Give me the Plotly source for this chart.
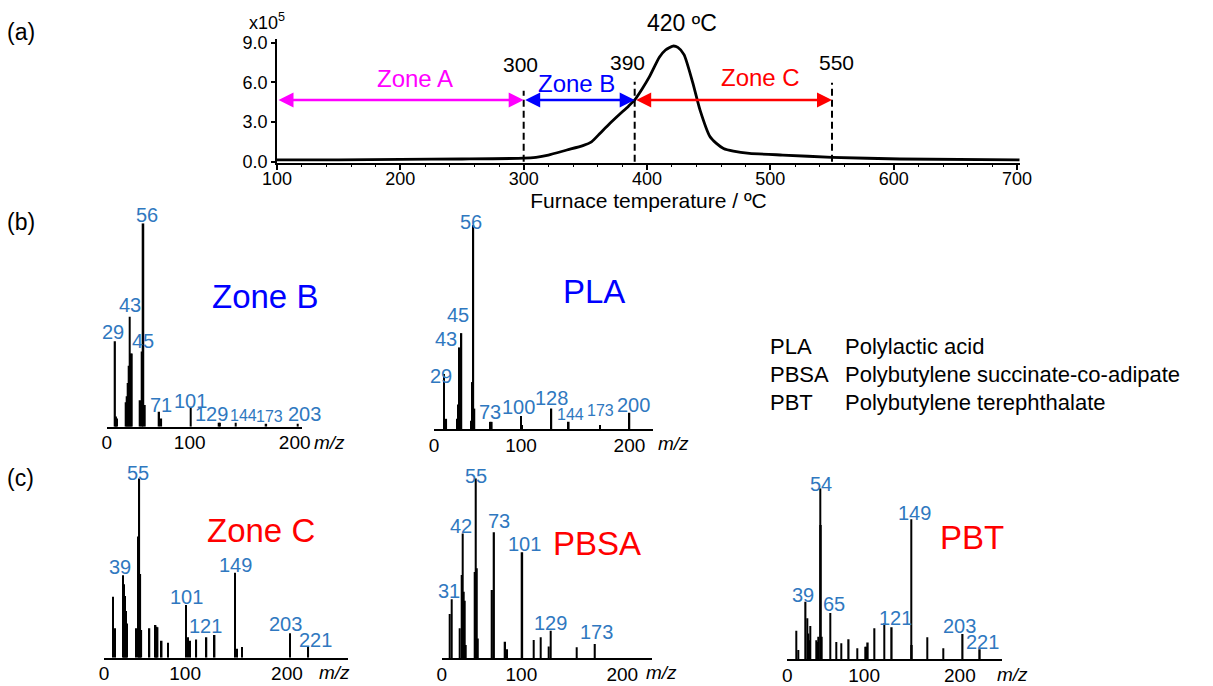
import plotly.graph_objects as go

W, H = 1213, 686
FONT = "Liberation Sans"
BLUE = "#2F78C0"

# ---------------- (a) thermogram data ----------------
temp_c = [100, 150, 200, 250, 300, 310, 320, 335, 348, 355, 362, 370, 378, 385, 390,
          396, 402, 410, 415, 421, 425, 430, 437, 443, 451, 456, 462, 470, 483, 510,
          550, 605, 702]
intensity_e5 = [0.13, 0.14, 0.17, 0.2, 0.26, 0.33, 0.5, 0.88, 1.21, 1.5, 2.15, 2.9, 3.6, 4.2, 4.67,
                5.5, 6.43, 7.9, 8.45, 8.75, 8.65, 8.1, 6.0, 3.9, 1.9, 1.4, 1.0, 0.8, 0.63, 0.5,
                0.33, 0.2, 0.13]
zone_bounds = [100, 300, 390, 550]
zone_names = ["Zone A", "Zone B", "Zone C"]
zone_colors = ["#FF00FF", "#0000FF", "#FF0000"]
arrow_level = 4.66
dash_tops = [5.37, 6.05, 5.98]
peak_temp = 420
x_ticks_a = [100, 200, 300, 400, 500, 600, 700]
y_ticks_a = [0, 3, 6, 9]
y_ticktext_a = ["0.0", "3.0", "6.0", "9.0"]

# ---------------- spectra data (relative intensity, %) ----------------
mz_zoneB = [29, 30, 31, 39, 40, 41, 42, 43, 44, 45, 53, 55, 56, 57, 71, 73, 101, 128, 129, 144, 173, 203]
int_zoneB = [42, 5, 4, 12, 15, 21.5, 30, 54, 36, 36, 13, 37, 100, 10.7, 7.4, 4, 9.5, 2, 2, 2, 1.5, 1.5]

mz_PLA = [29, 31, 41, 42, 43, 44, 45, 54, 55, 56, 57, 72, 73, 100, 101, 128, 144, 173, 200]
int_PLA = [27, 5, 5, 12, 40, 30, 47, 4, 23, 100, 10, 3.5, 3.5, 6.4, 2, 10, 3.5, 2, 8]

mz_zoneC = [29, 31, 39, 40, 41, 42, 43, 52, 54, 55, 56, 57, 65, 71, 72, 73, 77, 83, 101, 103, 105,
            111, 121, 129, 149, 151, 156, 203, 221]
int_zoneC = [34, 16.4, 46, 41, 34.4, 26, 19, 16.4, 67.5, 100, 46.7, 15.4, 16.4, 18.2, 17.3, 17, 9.5,
             8.4, 29.4, 11.4, 9.5, 10.2, 11.4, 12.7, 47.4, 5, 6, 13.6, 6.1]

mz_PBSA = [29, 31, 39, 41, 42, 43, 44, 45, 54, 55, 56, 57, 71, 73, 84, 86, 101, 112, 119, 127, 129, 155, 173]
int_PBSA = [24.6, 32.8, 16.7, 46.3, 69.4, 37, 32, 7.4, 48, 100, 50, 11, 38, 70, 9.2, 5, 58.9, 10.2,
            11.7, 6.5, 15.3, 6.1, 8]

mz_PBT = [29, 31, 39, 41, 42, 43, 44, 50, 51, 52, 54, 55, 56, 65, 71, 76, 84, 93, 101, 103, 104, 111,
          121, 129, 149, 150, 166, 183, 203, 221]
int_PBT = [16.6, 5.3, 33.6, 23.8, 15, 11, 19.3, 11, 10, 13, 100, 78.5, 13, 27, 10, 9.2, 11.5, 6.3,
           7.2, 7.2, 9.6, 18, 20.9, 18.6, 81.8, 8.2, 12.7, 6.3, 14.6, 5.7]

spectrum_ticks = [100, 200]
spectrum_ticktext = ["0", "100", "200"]

legend_abbr = ["PLA", "PBSA", "PBT"]
legend_names = ["Polylactic acid", "Polybutylene succinate-co-adipate", "Polybutylene terephthalate"]


def px_x(p):
    return p / W


def px_y(p):
    return 1 - p / H


fig = go.Figure()

# ---------------- panel (a) ----------------
fig.add_trace(go.Scatter(x=temp_c, y=intensity_e5, mode="lines", xaxis="x", yaxis="y",
                         line=dict(color="black", width=2.8, shape="spline", smoothing=0.6),
                         showlegend=False, hoverinfo="skip"))

axis_common = dict(showgrid=False, zeroline=False, showline=True, linecolor="black",
                   linewidth=1.5, automargin=False)

layout = dict(
    width=W, height=H, margin=dict(l=0, r=0, t=0, b=0, autoexpand=False),
    paper_bgcolor="white", plot_bgcolor="white",
    font=dict(family=FONT, color="black"),
    showlegend=False,
    xaxis=dict(domain=[px_x(277), px_x(1020)], range=[100, 702.4], anchor="y",
               tickvals=x_ticks_a, ticks="outside", ticklen=6, tickwidth=1.5, tickcolor="black",
               tickfont=dict(size=18, family=FONT), ticklabelstandoff=-7,
               minor=dict(dtick=20, ticks="outside", ticklen=3, tickwidth=1.2, tickcolor="black",
                          showgrid=False),
               title=dict(text="Furnace temperature / ºC", font=dict(size=21, family=FONT),
                          standoff=2),
               **axis_common),
    yaxis=dict(domain=[px_y(162.7), px_y(39.3)], range=[-0.08, 9.26], anchor="x",
               tickvals=y_ticks_a, ticktext=y_ticktext_a, ticks="outside", ticklen=4,
               tickwidth=1.5, tickcolor="black", tickfont=dict(size=18, family=FONT),
               **axis_common),
)


def paper_text(xp, yp, text, size, color="black", xanchor="center"):
    fig.add_annotation(x=px_x(xp), y=px_y(yp), xref="paper", yref="paper", text=text,
                       showarrow=False, xanchor=xanchor, yanchor="middle",
                       font=dict(size=size, family=FONT, color=color))


# dashed zone boundaries and their labels
bound_label_shift = {300: (-3, 26), 390: (-7, 19), 550: (4, 20)}
shapes = []
for b, top in zip(zone_bounds[1:], dash_tops):
    shapes.append(dict(type="line", xref="x", yref="y", x0=b, x1=b, y0=0, y1=top,
                       line=dict(color="black", width=2, dash="7px,4px")))
    dx, dy = bound_label_shift[b]
    fig.add_annotation(x=b, y=top, xref="x", yref="y", text=str(b), showarrow=False,
                       xanchor="center", yanchor="middle",
                       xshift=dx, yshift=dy, font=dict(size=21, family=FONT, color="black"))
layout["shapes"] = shapes

# zone arrows and labels
zone_label_shift = [(15, 22), (-2.5, 17), (27, 23)]
for i, name in enumerate(zone_names):
    b0, b1 = zone_bounds[i], zone_bounds[i + 1]
    c = zone_colors[i]
    fig.add_annotation(x=b1, y=arrow_level, ax=b0, ay=arrow_level, xref="x", yref="y",
                       axref="x", ayref="y", text="", showarrow=True, arrowhead=2,
                       startarrowhead=2, arrowside="end+start", arrowsize=1.2,
                       startarrowsize=1.2, arrowwidth=2.5, arrowcolor=c, standoff=0,
                       startstandoff=0)
    dx, dy = zone_label_shift[i]
    fig.add_annotation(x=(b0 + b1) / 2, y=arrow_level, xref="x", yref="y", text=name,
                       showarrow=False, xanchor="center", yanchor="middle", xshift=dx, yshift=dy,
                       font=dict(size=24, family=FONT, color=c))

# peak temperature label
peak_int = intensity_e5[temp_c.index(421)]
fig.add_annotation(x=peak_temp, y=peak_int, xref="x", yref="y", text=f"{peak_temp} ºC",
                   showarrow=False, xanchor="center", yanchor="middle", xshift=10, yshift=23,
                   font=dict(size=23, family=FONT, color="black"))
paper_text(247, 22, "x10<sup>5</sup>", 18, xanchor="left")

# ---------------- spectra ----------------
spectra = [
    ("Zone B", "#0000FF", mz_zoneB, int_zoneB, (106.7, 301.7), 426.7, 223.3, (21, 206.7), (265, 297),
     [(56, 4, 8, 0), (43, 0, 12, 0), (29, -2, 9, 0), (45, 11, 12, 0), (71, 2, 7, 0), (101, 0, 6, 0),
      (129, -9, 9, 0), (144, 8, 7, 1), (173, 3, 7, 1), (203, 7, 10, 0)], (329, 442)),
    ("PLA", "#0000FF", mz_PLA, int_PLA, (434, 653.3), 429, 225, (19.7, 222), (594, 291),
     [(56, -2, 3, 0), (45, -3, 18, 0), (43, -13, 8, 0), (29, -3, -2, 0), (73, -2, 10, 0),
      (100, -3, 9, 0), (128, 0, 11, 0), (144, 2, 7, 1), (173, 0, 14, 1), (200, 4, 8, 0)], (673, 443)),
    ("Zone C", "#FF0000", mz_zoneC, int_zoneC, (104, 348.3), 657.7, 478.3, (20.3, 260.3), (261, 530),
     [(55, -1, 5, 0), (39, -3, 8, 0), (101, 0, 8, 0), (121, -1, 11, 0), (149, 0, 8, 0),
      (203, -4, 9, 0), (221, 7, 7, 0)], (335, 672)),
    ("PBSA", "#FF0000", mz_PBSA, int_PBSA, (441.7, 651.7), 658.3, 478.3, (21, 229.2), (597, 543),
     [(55, 0, 2, 0), (42, -2, 7, 0), (73, 5, 11, 0), (101, 2, 8, 0), (31, -3, 8, 0),
      (129, 0, 8, 0), (173, 1, 12, 0)], (662, 672)),
    ("PBT", "#FF0000", mz_PBT, int_PBT, (787.3, 1001.7), 659, 488.3, (19.8, 243.7), (972, 537),
     [(54, 1, 4, 0), (149, 3, 6, 0), (39, -3, 7, 0), (65, 3, 9, 0), (121, 11, 5, 0),
      (203, -3, 8, 0), (221, 3, 7, 0)], (1012, 674)),
]

for k, (name, ncol, mz, inten, xd, base, top, xr, npos, labels, mzpos) in enumerate(spectra):
    n = k + 2
    xa, ya = f"x{n}", f"y{n}"
    fig.add_trace(go.Bar(x=mz, y=inten, xaxis=xa, yaxis=ya, width=1.5,
                         marker=dict(color="black", line=dict(width=0)),
                         showlegend=False, hoverinfo="skip"))
    layout[f"xaxis{n}"] = dict(domain=[px_x(xd[0]), px_x(xd[1])], range=list(xr), anchor=ya,
                               tickvals=[xr[0]] + spectrum_ticks, ticktext=spectrum_ticktext,
                               ticks="", tickfont=dict(size=19, family=FONT),
                               ticklabelstandoff=-2, **axis_common)
    layout[f"yaxis{n}"] = dict(domain=[px_y(base), px_y(top)], range=[0, 100], anchor=xa,
                               visible=False, automargin=False)
    lookup = dict(zip(mz, inten))
    for m, dx, dy, small in labels:
        fig.add_annotation(x=m, y=lookup[m], xref=xa, yref=ya, text=str(m), showarrow=False,
                           xanchor="center", yanchor="middle", xshift=dx, yshift=dy,
                           font=dict(size=16 if small else 20, family=FONT, color=BLUE))
    paper_text(npos[0], npos[1], name, 33, ncol)
    paper_text(mzpos[0], mzpos[1], "<i>m/z</i>", 19)

# ---------------- legend text ----------------
for i, (ab, nm) in enumerate(zip(legend_abbr, legend_names)):
    ypx = 346 + 28 * i
    paper_text(768, ypx, ab, 22, xanchor="left")
    paper_text(843, ypx, nm, 22, xanchor="left")

# panel letters
for lab, ypx in zip(["(a)", "(b)", "(c)"], [32, 222, 478]):
    paper_text(5, ypx, lab, 23, xanchor="left")

fig.update_layout(**layout)
fig.write_html("out.html", config={"displayModeBar": False},
               post_script="document.body.style.margin='0px';")
